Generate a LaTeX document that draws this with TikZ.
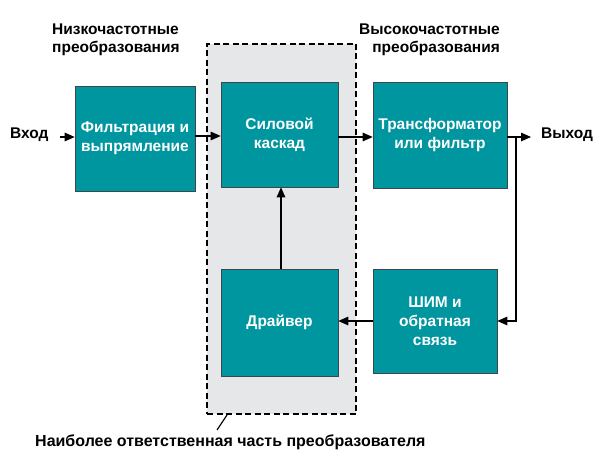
\documentclass[tikz,border=0pt]{standalone}
\usepackage{fontspec}
\setmainfont{Liberation Sans}
\usetikzlibrary{arrows.meta}
\definecolor{teal1}{RGB}{0,150,160}
\definecolor{grayfill}{RGB}{230,231,233}
\definecolor{boxedge}{RGB}{60,70,75}
\begin{document}
\begin{tikzpicture}[x=1pt,y=-1pt,
  blk/.style={draw=boxedge,line width=0.6pt,fill=teal1,text=white,font=\fontsize{15.5}{19}\selectfont\bfseries,align=center,inner sep=0pt,minimum width=#1},
  lbl/.style={font=\fontsize{15.5}{17.5}\selectfont\bfseries,text=black,align=left,inner sep=0pt},
  conn/.style={line width=1.2pt,-{Triangle[length=10pt,width=8.5pt]}}
]
\useasboundingbox (0,0) rectangle (600,465);
\node[draw=black,line width=1.2pt,dash pattern=on 6pt off 3.5pt,fill=grayfill,minimum width=149pt,minimum height=370pt,inner sep=0pt] (zone) at (281.5,229) {};
\node[blk=120pt,minimum height=105pt] (filt) at (135,138.5) {Фильтрация и\\выпрямление};
\node[blk=117pt,minimum height=105pt] (power) at (279.5,134.5) {Силовой\\каскад};
\node[blk=134pt,minimum height=106pt] (trans) at (440,135) {Трансформатор\\или фильтр};
\node[blk=117pt,minimum height=107pt] (drv) at (279.5,322.5) {Драйвер};
\node[blk=124pt,minimum height=104pt] (pwm) at (435,321) {ШИМ и\\обратная\\связь};
\node[lbl,anchor=west] (vin) at (10,135) {Вход};
\node[lbl,anchor=west] (vout) at (541,135) {Выход};
\node[lbl,anchor=west] (lf) at (52,40) {Низкочастотные\\преобразования};
\node[lbl,anchor=east,align=right] (hf) at (500,40) {Высокочастотные\\преобразования};
\node[lbl,anchor=west,font=\fontsize{16}{18}\selectfont\bfseries] (zl) at (35,442) {Наиболее ответственная часть преобразователя};
\coordinate (inA) at (60,137);
\coordinate (outB) at (531,137);
\coordinate (fbA) at (516,137);
\coordinate (fbB) at (516,321);
\coordinate (ldA) at (227,415);
\coordinate (ldB) at (217,430);
\draw[conn] (inA) -- (inA -| filt.west);
\draw[conn] (filt.east |- 0,136) -- (power.west |- 0,136);
\draw[conn] (power.east |- 0,137) -- (trans.west |- 0,137);
\draw[conn] (trans.east |- outB) -- (outB);
\draw[conn] (fbA) -- (fbB) -- (pwm.east |- fbB);
\draw[conn] (pwm.west |- fbB) -- (drv.east |- fbB);
\draw[conn] (drv.north -| 281,0) -- (power.south -| 281,0);
\draw[line width=1.2pt] (ldA) -- (ldB);
\end{tikzpicture}
\end{document}
